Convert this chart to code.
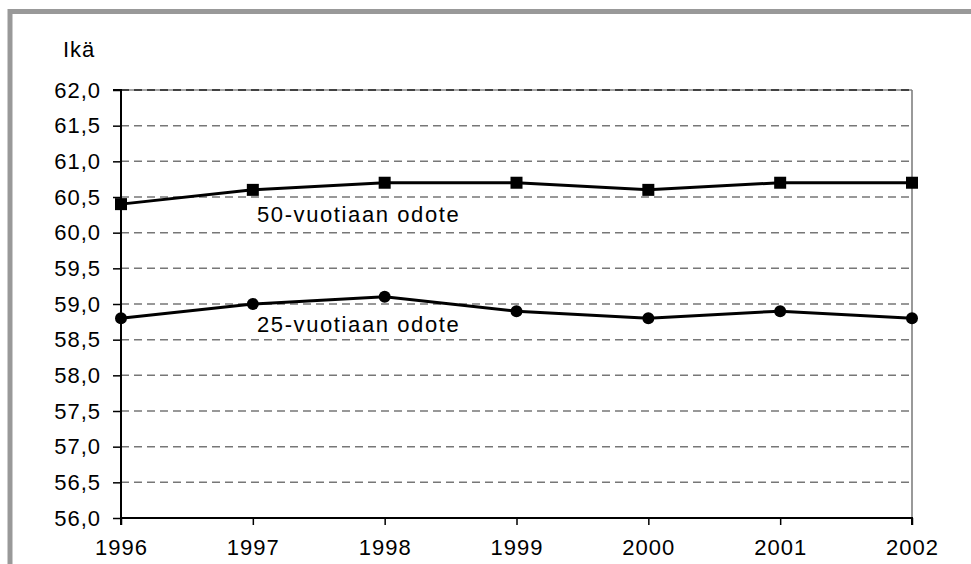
<!DOCTYPE html>
<html>
<head>
<meta charset="utf-8">
<script src="https://cdn.jsdelivr.net/npm/d3@7"></script>
<style>
  body { margin: 0; background: #fff; }
  svg text { font-family: "Liberation Sans", Arial, sans-serif; fill: #000; }
</style>
</head>
<body>
<script>
const width = 971;
const height = 564;
const margin = { top: 90, right: 59, bottom: 46, left: 121 };

const vuodet = [1996, 1997, 1998, 1999, 2000, 2001, 2002];
const odote50 = [60.4, 60.6, 60.7, 60.7, 60.6, 60.7, 60.7];
const odote25 = [58.8, 59.0, 59.1, 58.9, 58.8, 58.9, 58.8];
const yTicks = [56, 56.5, 57, 57.5, 58, 58.5, 59, 59.5, 60, 60.5, 61, 61.5, 62];

const svg = d3
  .select("body")
  .append("svg")
  .attr("width", width)
  .attr("height", height);

// harmaa kehys
svg
  .append("rect")
  .attr("x", 10)
  .attr("y", 11.5)
  .attr("width", width + 20)
  .attr("height", height + 20)
  .attr("fill", "none")
  .attr("stroke", "#999")
  .attr("stroke-width", 5);

const x = d3
  .scaleLinear()
  .domain([1996, 2002])
  .range([margin.left, width - margin.right]);

const y = d3
  .scaleLinear()
  .domain([56, 62])
  .range([height - margin.bottom, margin.top]);

// ruudukko
svg
  .append("line")
  .attr("x1", x(1996))
  .attr("x2", x(2002))
  .attr("y1", y(62))
  .attr("y2", y(62))
  .attr("stroke", "#888")
  .attr("stroke-width", 1.5);

svg
  .append("g")
  .selectAll("line")
  .data(yTicks.filter((d) => d > 56))
  .join("line")
  .attr("x1", x(1996))
  .attr("x2", x(2002))
  .attr("y1", (d) => y(d))
  .attr("y2", (d) => y(d))
  .attr("stroke", (d) => (d === 62 ? "#222" : "#777"))
  .attr("stroke-width", 1.5)
  .attr("stroke-dasharray", "8,5");

// oikea reuna
svg
  .append("line")
  .attr("x1", x(2002))
  .attr("x2", x(2002))
  .attr("y1", y(62))
  .attr("y2", y(56))
  .attr("stroke", "#777")
  .attr("stroke-width", 1.5);

const ejeY = d3
  .axisLeft(y)
  .tickValues(yTicks)
  .tickSize(8)
  .tickPadding(12)
  .tickFormat((d) => d3.format(".1f")(d).replace(".", ","));

const gY = svg
  .append("g")
  .attr("transform", `translate(${margin.left},0)`)
  .call(ejeY);

const ejeX = d3
  .axisBottom(x)
  .tickValues(vuodet)
  .tickSize(7)
  .tickPadding(14)
  .tickFormat(d3.format("d"));

const gX = svg
  .append("g")
  .attr("transform", `translate(0,${height - margin.bottom})`)
  .call(ejeX);

[gY, gX].forEach((g) => {
  g.select(".domain").attr("stroke", "#000").attr("stroke-width", 2);
  g.selectAll(".tick line").attr("stroke", "#000").attr("stroke-width", 1.5);
  g.selectAll("text")
    .attr("font-size", 22)
    .attr("letter-spacing", 1)
    .attr("fill", "#000");
});
gY.select(".domain").attr("d", `M-8,${y(62)}H0V${y(56)}`);
gX.select(".domain").attr("d", `M${x(1996)},7V0H${x(2002)}V7`);

svg
  .append("text")
  .attr("x", 63)
  .attr("y", 57)
  .attr("font-size", 22)
  .attr("letter-spacing", 1)
  .text("Ikä");

const linja = d3
  .line()
  .x((d, i) => x(vuodet[i]))
  .y((d) => y(d));

svg
  .append("path")
  .datum(odote50)
  .attr("d", linja)
  .attr("fill", "none")
  .attr("stroke", "#000")
  .attr("stroke-width", 3);

svg
  .append("path")
  .datum(odote25)
  .attr("d", linja)
  .attr("fill", "none")
  .attr("stroke", "#000")
  .attr("stroke-width", 3);

svg
  .append("g")
  .selectAll("rect")
  .data(odote50)
  .join("rect")
  .attr("x", (d, i) => x(vuodet[i]) - 6)
  .attr("y", (d) => y(d) - 6)
  .attr("width", 12)
  .attr("height", 12)
  .attr("fill", "#000");

svg
  .append("g")
  .selectAll("circle")
  .data(odote25)
  .join("circle")
  .attr("cx", (d, i) => x(vuodet[i]))
  .attr("cy", (d) => y(d))
  .attr("r", 6)
  .attr("fill", "#000");

svg
  .append("text")
  .attr("x", 257)
  .attr("y", 222)
  .attr("font-size", 22)
  .attr("letter-spacing", 1.6)
  .text("50-vuotiaan odote");

svg
  .append("text")
  .attr("x", 257)
  .attr("y", 332)
  .attr("font-size", 22)
  .attr("letter-spacing", 1.6)
  .text("25-vuotiaan odote");
</script>
</body>
</html>
